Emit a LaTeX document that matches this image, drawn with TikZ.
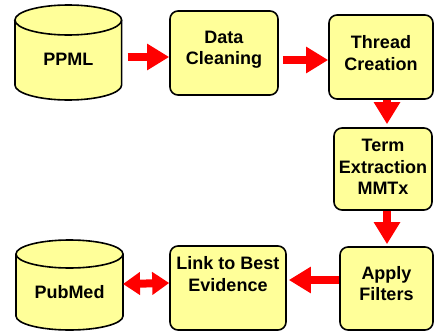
\documentclass[tikz,border=0pt]{standalone}
\usepackage{fontspec}
\setmainfont{Liberation Sans}
\usetikzlibrary{arrows.meta,backgrounds}
\definecolor{paleyellow}{HTML}{FFFF99}
\tikzset{
  stage/.style={draw, line width=1.6pt, rounded corners=8pt, fill=paleyellow, align=center,
    inner sep=0pt, font=\bfseries\fontsize{18}{21.5}\selectfont},
  store/.style={inner sep=0pt, outer sep=0pt, text depth=0pt, font=\bfseries\fontsize{18}{21.5}\selectfont},
  storeline/.style={draw, line width=1.6pt, fill=paleyellow},
  flow/.style={draw=red, line width=8pt, -{Triangle[width=25pt,length=22pt]}},
  twoway/.style={draw=red, line width=8pt, {Triangle[width=22pt,length=17pt]}-{Triangle[width=22pt,length=17pt]}}
}
\begin{document}
\begin{tikzpicture}[x=1pt,y=-1pt]
\useasboundingbox (0,0) rectangle (434,332);
\node[store, minimum width=106.7pt, minimum height=95pt, text height=25pt] (ppml) at (68.3,52.5) {PPML};
\node[stage, minimum width=108pt, minimum height=84pt, text depth=10pt] (data) at (224,53) {Data\\Cleaning};
\node[stage, minimum width=104pt, minimum height=84pt, text depth=8pt] (thread) at (381,57) {Thread\\Creation};
\node[stage, minimum width=98pt, minimum height=82pt, text depth=4pt] (term) at (383,169) {Term\\Extraction\\MMTx};
\node[stage, minimum width=93pt, minimum height=83pt, text depth=10pt] (apply) at (386.5,288.5) {Apply\\Filters};
\node[stage, minimum width=116pt, minimum height=84pt] (link) at (228,288) {Link to Best\\Evidence\\\strut};
\node[store, minimum width=107pt, minimum height=90pt, text height=27pt] (pubmed) at (69.5,285) {PubMed};
\begin{scope}[on background layer]
\draw[storeline] ([yshift=-15pt]ppml.north west) -- ([yshift=15pt]ppml.south west)
  arc[start angle=180, end angle=360, x radius=53.35pt, y radius=15pt]
  -- ([yshift=-15pt]ppml.north east)
  arc[start angle=0, end angle=180, x radius=53.35pt, y radius=15pt] -- cycle;
\draw[line width=1.6pt] ([yshift=-15pt]ppml.north west)
  arc[start angle=180, end angle=360, x radius=53.35pt, y radius=15pt];
\draw[storeline] ([yshift=-14pt]pubmed.north west) -- ([yshift=14pt]pubmed.south west)
  arc[start angle=180, end angle=360, x radius=53.5pt, y radius=14pt]
  -- ([yshift=-14pt]pubmed.north east)
  arc[start angle=0, end angle=180, x radius=53.5pt, y radius=14pt] -- cycle;
\draw[line width=1.6pt] ([yshift=-14pt]pubmed.north west)
  arc[start angle=180, end angle=360, x radius=53.5pt, y radius=14pt];
\end{scope}
\draw[flow, shorten <=6pt] ([yshift=-4.5pt]ppml.east) -- ([yshift=-4pt]data.west);
\draw[flow, shorten <=4pt] ([yshift=-7pt]data.east) -- ([yshift=-3pt]thread.west);
\draw[flow, shorten >=3pt] ([xshift=6pt]thread.south) -- ([xshift=4pt]term.north);
\draw[flow, shorten >=2pt] ([xshift=4pt]term.south) -- ([xshift=0.5pt]apply.north);
\draw[flow, shorten >=2pt] ([yshift=8.5pt]apply.west) -- ([yshift=8pt]link.east);
\draw[twoway] ([yshift=1pt]pubmed.east) -- ([yshift=5pt]link.west);
\end{tikzpicture}
\end{document}
